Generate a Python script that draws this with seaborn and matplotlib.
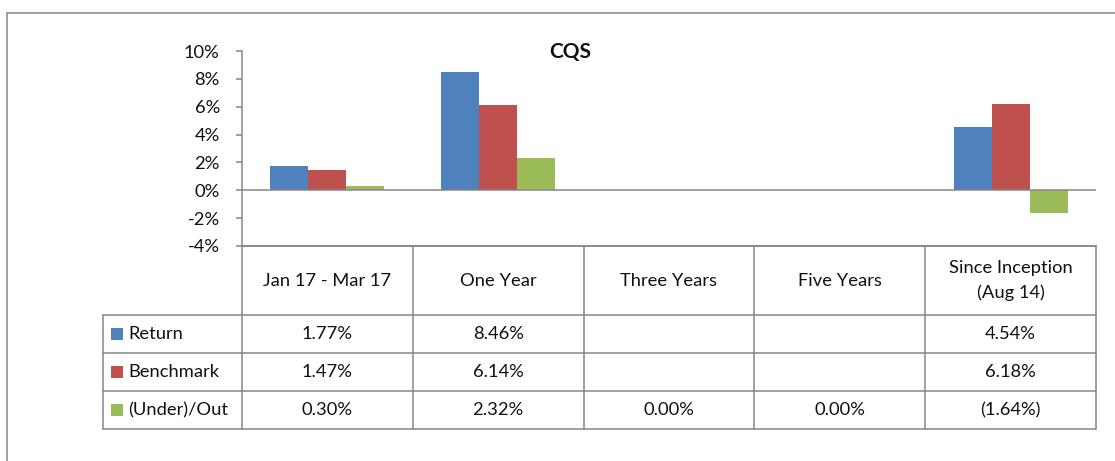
import numpy as np
import pandas as pd
import matplotlib
matplotlib.use('Agg')
import matplotlib.pyplot as plt
from matplotlib.lines import Line2D
from matplotlib.patches import Rectangle
from matplotlib.ticker import FuncFormatter
import seaborn as sns

# chart data (percent)
periods = ['Jan 17 - Mar 17', 'One Year', 'Three Years', 'Five Years', 'Since Inception\n(Aug 14)']
series = ['Return', 'Benchmark', '(Under)/Out']
ret = [1.77, 8.46, np.nan, np.nan, 4.54]
bench = [1.47, 6.14, np.nan, np.nan, 6.18]
under_out = [0.30, 2.32, 0.00, 0.00, -1.64]
colors = ['#4F81BD', '#C0504D', '#9BBB59']
yticks = [-4, -2, 0, 2, 4, 6, 8, 10]

rows = []
for name, vals in zip(series, [ret, bench, under_out]):
    for p, v in zip(periods, vals):
        rows.append({'period': p, 'series': name, 'value': v})
df = pd.DataFrame(rows)


def fmt(v):
    if np.isnan(v):
        return ''
    if v < 0:
        return '({:.2f}%)'.format(-v)
    return '{:.2f}%'.format(v)


sns.set_style('white')
plt.rcParams['font.family'] = ['Lato', 'DejaVu Sans']

W, H = 1115, 461
fig = plt.figure(figsize=(W / 100, H / 100), dpi=100)

# pixel helpers
fx = lambda px: px / W
fy = lambda py: 1 - py / H

FS = 13.2
TXT = '#111111'

ax_l, ax_r, ax_t, ax_b = 242, 1096, 51, 246
ax = fig.add_axes([fx(ax_l), fy(ax_b), fx(ax_r - ax_l), (ax_b - ax_t) / H])

sns.barplot(data=df, x='period', y='value', hue='series', hue_order=series,
            order=periods, palette=colors, errorbar=None, width=0.667,
            gap=0, linewidth=0, saturation=1, legend=False, ax=ax)

grey = '#868686'
ax.set_xlim(-0.5, 4.5)
ax.set_ylim(-4, 10)
ax.set_yticks(yticks)
ax.yaxis.set_major_formatter(FuncFormatter(lambda v, p: '{:.0f}%'.format(v)))
ax.set_xticks([])
ax.set_xlabel('')
ax.set_ylabel('')
ax.axhline(0, color=grey, lw=1.1, zorder=3)
for s in ['top', 'right']:
    ax.spines[s].set_visible(False)
for s in ['left', 'bottom']:
    ax.spines[s].set_color(grey)
    ax.spines[s].set_linewidth(1.1)
ax.tick_params(axis='y', direction='out', length=4, width=1.1, color=grey,
               pad=12, labelsize=FS, left=True)
for t in ax.get_yticklabels():
    t.set_color(TXT)

fig.text(fx(570), fy(52), 'CQS', ha='center', va='center', fontsize=15,
         fontweight='bold', color=TXT)

# outer chart frame
fig.add_artist(Line2D([fx(7), fx(1115)], [fy(13), fy(13)], color=grey, lw=1.1))
fig.add_artist(Line2D([fx(7), fx(7)], [fy(13), fy(461)], color=grey, lw=1.1))

# data table
col_w = (ax_r - ax_l) / len(periods)
col_x = [ax_l + i * col_w for i in range(len(periods) + 1)]
row_y = [246, 315, 353, 391, 429]
first_l = 103

def hline(x0, x1, y):
    fig.add_artist(Line2D([fx(x0), fx(x1)], [fy(y), fy(y)], color=grey, lw=1.1))

def vline(x, y0, y1):
    fig.add_artist(Line2D([fx(x), fx(x)], [fy(y0), fy(y1)], color=grey, lw=1.1))

hline(ax_l, ax_r, row_y[0])
for y in row_y[1:]:
    hline(first_l, ax_r, y)
vline(first_l, row_y[1], row_y[-1])
for x in col_x:
    vline(x, row_y[0], row_y[-1])

for i, p in enumerate(periods):
    cx = (col_x[i] + col_x[i + 1]) / 2
    fig.text(fx(cx), fy((row_y[0] + row_y[1]) / 2), p, ha='center', va='center',
             fontsize=FS, color=TXT, linespacing=1.65)

for r, (name, vals) in enumerate(zip(series, [ret, bench, under_out])):
    cy = (row_y[r + 1] + row_y[r + 2]) / 2
    fig.add_artist(Rectangle((fx(111), fy(cy + 6)), fx(12), 12 / H,
                             color=colors[r], lw=0))
    fig.text(fx(128), fy(cy), name, ha='left', va='center', fontsize=FS,
             color=TXT)
    for i, v in enumerate(vals):
        cx = (col_x[i] + col_x[i + 1]) / 2
        fig.text(fx(cx), fy(cy), fmt(v), ha='center', va='center', fontsize=FS,
                 color=TXT)

fig.savefig('out.png', dpi=100)
